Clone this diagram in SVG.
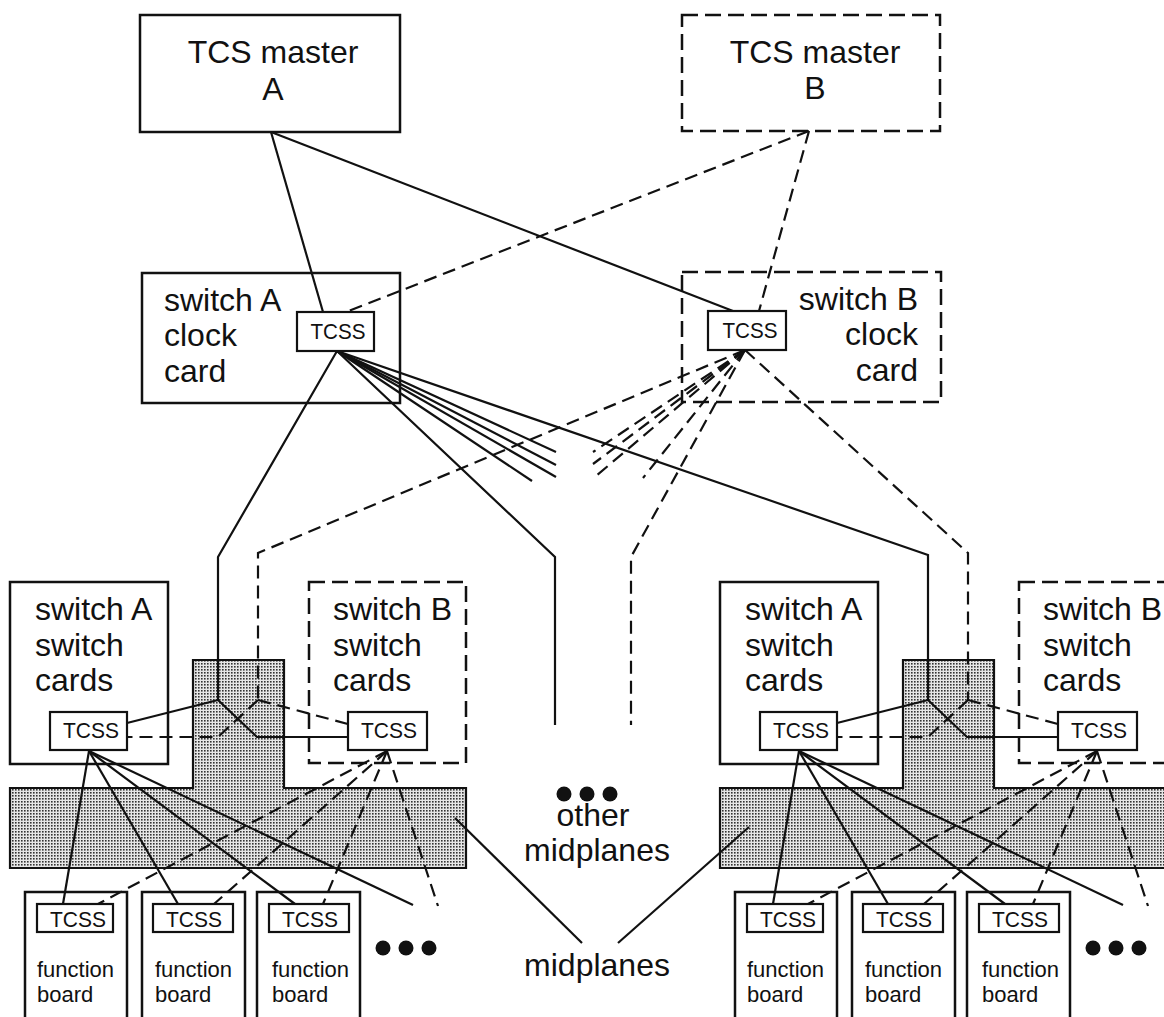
<svg xmlns="http://www.w3.org/2000/svg" width="1164" height="1017" viewBox="0 0 1164 1017">
<defs>
<pattern id="stipple" width="3" height="3" patternUnits="userSpaceOnUse">
<rect width="3" height="3" fill="#e6e6e6"/>
<rect width="1.6" height="1.6" fill="#333"/>
</pattern>
<style>
text{font-family:"Liberation Sans",Arial,Helvetica,sans-serif;fill:#111}
.big{font-size:32px}
.tc{font-size:22px}
.fb{font-size:22px}
.box{fill:#fff;stroke:#111;stroke-width:2.5}
.dbox{fill:none;stroke:#111;stroke-width:2.5;stroke-dasharray:16 7}
.tcss{fill:#fff;stroke:#111;stroke-width:2.2}
.mid{fill:url(#stipple);stroke:#111;stroke-width:2.2}
.s{fill:none;stroke:#111;stroke-width:2.2}
.d{fill:none;stroke:#111;stroke-width:2.2;stroke-dasharray:13 7}
.dot{fill:#111}
</style>
</defs>
<rect width="1164" height="1017" fill="#fff"/>

<!-- midplanes (drawn under everything) -->
<g id="midplane-left"><polygon class="mid" points="10,788 193,788 193,660 284,660 284,788 466,788 466,868 10,868"/></g>
<g id="midplane-right" transform="translate(710,0)"><polygon class="mid" points="10,788 193,788 193,660 284,660 284,788 466,788 466,868 10,868"/></g>

<!-- top level nodes -->
<g id="tcs-master-a">
<rect class="box" x="140" y="15" width="260" height="117"/>
<text class="big" x="273" y="63" text-anchor="middle">TCS master</text>
<text class="big" x="273" y="100" text-anchor="middle">A</text>
</g>
<g id="tcs-master-b">
<rect class="dbox" x="682" y="15" width="258" height="116"/>
<text class="big" x="815" y="63" text-anchor="middle">TCS master</text>
<text class="big" x="815" y="99" text-anchor="middle">B</text>
</g>
<g id="switch-a-clock-card">
<rect class="box" x="142" y="273" width="258" height="130"/>
<text class="big" x="164" y="311">switch A</text>
<text class="big" x="164" y="346">clock</text>
<text class="big" x="164" y="382">card</text>
</g>
<g id="switch-b-clock-card">
<rect class="dbox" x="682" y="272" width="259" height="130"/>
<text class="big" x="918" y="310" text-anchor="end">switch B</text>
<text class="big" x="918" y="345" text-anchor="end">clock</text>
<text class="big" x="918" y="381" text-anchor="end">card</text>
</g>

<!-- left midplane unit nodes -->
<g id="unit-left">
<g id="l-switch-a-cards">
<rect class="box" x="10" y="582" width="158" height="182"/>
<text class="big" x="35" y="620">switch A</text>
<text class="big" x="35" y="656">switch</text>
<text class="big" x="35" y="691">cards</text>
</g>
<g id="l-switch-b-cards">
<rect class="dbox" x="309" y="582" width="157" height="181"/>
<text class="big" x="333" y="620">switch B</text>
<text class="big" x="333" y="656">switch</text>
<text class="big" x="333" y="691">cards</text>
</g>
<g id="l-board-1">
<path class="box" d="M25,1020 V892 H127 V1020"/>
<text class="fb" x="37" y="977">function</text>
<text class="fb" x="37" y="1002">board</text>
</g>
<g id="l-board-2">
<path class="box" d="M142,1020 V892 H245 V1020"/>
<text class="fb" x="155" y="977">function</text>
<text class="fb" x="155" y="1002">board</text>
</g>
<g id="l-board-3">
<path class="box" d="M257,1020 V892 H360 V1020"/>
<text class="fb" x="272" y="977">function</text>
<text class="fb" x="272" y="1002">board</text>
</g>
<g id="l-more-boards">
<circle class="dot" cx="383" cy="948" r="7.5"/><circle class="dot" cx="406" cy="948" r="7.5"/><circle class="dot" cx="429" cy="948" r="7.5"/>
</g>
</g>

<!-- right midplane unit nodes -->
<g id="unit-right" transform="translate(710,0)">
<g id="r-switch-a-cards">
<rect class="box" x="10" y="582" width="158" height="182"/>
<text class="big" x="35" y="620">switch A</text>
<text class="big" x="35" y="656">switch</text>
<text class="big" x="35" y="691">cards</text>
</g>
<g id="r-switch-b-cards">
<rect class="dbox" x="309" y="582" width="157" height="181"/>
<text class="big" x="333" y="620">switch B</text>
<text class="big" x="333" y="656">switch</text>
<text class="big" x="333" y="691">cards</text>
</g>
<g id="r-board-1">
<path class="box" d="M25,1020 V892 H127 V1020"/>
<text class="fb" x="37" y="977">function</text>
<text class="fb" x="37" y="1002">board</text>
</g>
<g id="r-board-2">
<path class="box" d="M142,1020 V892 H245 V1020"/>
<text class="fb" x="155" y="977">function</text>
<text class="fb" x="155" y="1002">board</text>
</g>
<g id="r-board-3">
<path class="box" d="M257,1020 V892 H360 V1020"/>
<text class="fb" x="272" y="977">function</text>
<text class="fb" x="272" y="1002">board</text>
</g>
<g id="r-more-boards">
<circle class="dot" cx="383" cy="948" r="7.5"/><circle class="dot" cx="406" cy="948" r="7.5"/><circle class="dot" cx="429" cy="948" r="7.5"/>
</g>
</g>

<g id="other-midplanes">
<circle class="dot" cx="564" cy="794" r="7.5"/><circle class="dot" cx="587" cy="794" r="7.5"/><circle class="dot" cx="610" cy="794" r="7.5"/>
<text class="big" x="593" y="826" text-anchor="middle">other</text>
<text class="big" x="597" y="861" text-anchor="middle">midplanes</text>
</g>
<g id="midplanes-label">
<text class="big" x="597" y="976" text-anchor="middle">midplanes</text>
</g>

<!-- connectors -->
<g id="connectors">
<line class="s" x1="271" y1="132" x2="323" y2="312"/>
<line class="s" x1="271" y1="132" x2="733" y2="311"/>
<line class="d" x1="809" y1="131" x2="346" y2="312"/>
<line class="d" x1="809" y1="131" x2="759" y2="311"/>
<!-- from switch A clock TCSS -->
<polyline class="s" points="337,351 218,557 218,700"/>
<polyline class="s" points="337,351 555,557 555,725"/>
<polyline class="s" points="337,351 928,555 928,700"/>
<line class="s" x1="337" y1="351" x2="556" y2="452"/>
<line class="s" x1="337" y1="351" x2="556" y2="465"/>
<line class="s" x1="337" y1="351" x2="556" y2="477"/>
<line class="s" x1="337" y1="351" x2="532" y2="481"/>
<!-- from switch B clock TCSS -->
<polyline class="d" points="745,350 258,553 258,700"/>
<polyline class="d" points="745,350 631,557 631,725"/>
<polyline class="d" points="745,350 968,553 968,700"/>
<line class="d" x1="745" y1="350" x2="593" y2="452"/>
<line class="d" x1="745" y1="350" x2="593" y2="464"/>
<line class="d" x1="745" y1="350" x2="596" y2="476"/>
<line class="d" x1="745" y1="350" x2="643" y2="478"/>
<!-- label pointers -->
<line class="s" x1="582" y1="943" x2="455" y2="818"/>
<line class="s" x1="618" y1="943" x2="749" y2="827"/>
<g id="conn-unit-left">
<line class="s" x1="218" y1="700" x2="127" y2="723"/>
<polyline class="s" points="218,700 257,737 348,737"/>
<line class="d" x1="258" y1="700" x2="348" y2="724"/>
<polyline class="d" points="258,700 218,737 127,737"/>
<line class="s" x1="89" y1="751" x2="63" y2="904"/>
<line class="s" x1="89" y1="751" x2="178" y2="904"/>
<line class="s" x1="89" y1="751" x2="295" y2="904"/>
<line class="s" x1="89" y1="751" x2="413" y2="905"/>
<line class="d" x1="387" y1="751" x2="98" y2="904"/>
<line class="d" x1="387" y1="751" x2="214" y2="904"/>
<line class="d" x1="387" y1="751" x2="323" y2="904"/>
<line class="d" x1="387" y1="751" x2="438" y2="906"/>
</g>
<g id="conn-unit-right" transform="translate(710,0)">
<line class="s" x1="218" y1="700" x2="127" y2="723"/>
<polyline class="s" points="218,700 257,737 348,737"/>
<line class="d" x1="258" y1="700" x2="348" y2="724"/>
<polyline class="d" points="258,700 218,737 127,737"/>
<line class="s" x1="89" y1="751" x2="63" y2="904"/>
<line class="s" x1="89" y1="751" x2="178" y2="904"/>
<line class="s" x1="89" y1="751" x2="295" y2="904"/>
<line class="s" x1="89" y1="751" x2="413" y2="905"/>
<line class="d" x1="387" y1="751" x2="98" y2="904"/>
<line class="d" x1="387" y1="751" x2="214" y2="904"/>
<line class="d" x1="387" y1="751" x2="323" y2="904"/>
<line class="d" x1="387" y1="751" x2="438" y2="906"/>
</g>
</g>

<!-- TCSS nodes (drawn above connectors) -->
<g id="tcss-clock-a"><rect class="tcss" x="297" y="312" width="77" height="39"/><text class="tc" x="338" y="339" text-anchor="middle" textLength="55" lengthAdjust="spacingAndGlyphs">TCSS</text></g>
<g id="tcss-clock-b"><rect class="tcss" x="708" y="311" width="78" height="39"/><text class="tc" x="750" y="338" text-anchor="middle" textLength="55" lengthAdjust="spacingAndGlyphs">TCSS</text></g>
<g id="tcss-l-sw-a"><rect class="tcss" x="50" y="712" width="77" height="38"/><text class="tc" x="91" y="738" text-anchor="middle" textLength="56" lengthAdjust="spacingAndGlyphs">TCSS</text></g>
<g id="tcss-l-sw-b"><rect class="tcss" x="348" y="712" width="79" height="38"/><text class="tc" x="389" y="738" text-anchor="middle" textLength="56" lengthAdjust="spacingAndGlyphs">TCSS</text></g>
<g id="tcss-l-fb-1"><rect class="tcss" x="37" y="904" width="76" height="28"/><text class="tc" x="78" y="927" text-anchor="middle" textLength="56" lengthAdjust="spacingAndGlyphs">TCSS</text></g>
<g id="tcss-l-fb-2"><rect class="tcss" x="153" y="904" width="80" height="28"/><text class="tc" x="194" y="927" text-anchor="middle" textLength="56" lengthAdjust="spacingAndGlyphs">TCSS</text></g>
<g id="tcss-l-fb-3"><rect class="tcss" x="269" y="904" width="80" height="28"/><text class="tc" x="310" y="927" text-anchor="middle" textLength="56" lengthAdjust="spacingAndGlyphs">TCSS</text></g>
<g id="tcss-r-sw-a"><rect class="tcss" x="760" y="712" width="77" height="38"/><text class="tc" x="801" y="738" text-anchor="middle" textLength="56" lengthAdjust="spacingAndGlyphs">TCSS</text></g>
<g id="tcss-r-sw-b"><rect class="tcss" x="1058" y="712" width="79" height="38"/><text class="tc" x="1099" y="738" text-anchor="middle" textLength="56" lengthAdjust="spacingAndGlyphs">TCSS</text></g>
<g id="tcss-r-fb-1"><rect class="tcss" x="747" y="904" width="76" height="28"/><text class="tc" x="788" y="927" text-anchor="middle" textLength="56" lengthAdjust="spacingAndGlyphs">TCSS</text></g>
<g id="tcss-r-fb-2"><rect class="tcss" x="863" y="904" width="80" height="28"/><text class="tc" x="904" y="927" text-anchor="middle" textLength="56" lengthAdjust="spacingAndGlyphs">TCSS</text></g>
<g id="tcss-r-fb-3"><rect class="tcss" x="979" y="904" width="80" height="28"/><text class="tc" x="1020" y="927" text-anchor="middle" textLength="56" lengthAdjust="spacingAndGlyphs">TCSS</text></g>
</svg>
